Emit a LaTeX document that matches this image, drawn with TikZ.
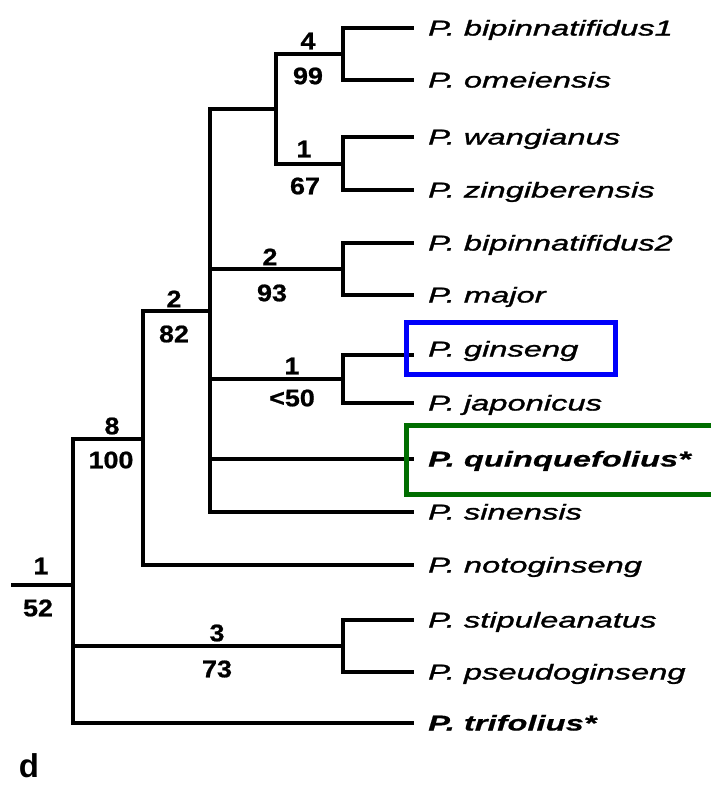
\documentclass[tikz,border=0pt]{standalone}
\usepackage{fontspec}
\setmainfont{Liberation Sans}
% wide sans for taxon names, slightly widened bold for support values
\newfontfamily\taxonfont[FakeStretch=1.52, ItalicFeatures={FakeBold=1.4}, BoldItalicFeatures={FakeBold=0.6}]{Liberation Sans}
\newfontfamily\suppfont[FakeStretch=1.12, BoldFeatures={FakeBold=0.8}]{Liberation Sans}
\definecolor{boxblue}{RGB}{0,0,250}
\definecolor{boxgreen}{RGB}{0,110,0}
\begin{document}
\begin{tikzpicture}[x=1pt,y=-1pt,
  branch/.style={line width=4pt, line cap=rect, line join=miter},
  taxon/.style={anchor=base west, inner sep=0pt, font=\fontsize{21.5}{24}\selectfont\taxonfont\itshape},
  taxonb/.style={taxon, font=\fontsize{21.5}{24}\selectfont\taxonfont\bfseries\itshape},
  supp/.style={inner sep=0pt, font=\fontsize{24}{26}\selectfont\suppfont\bfseries},
  hilite/.style={line width=5pt}]
\useasboundingbox (0,0) rectangle (711,785);

% leaf tips
\coordinate (t1) at (412,28);
\coordinate (t2) at (412,80);
\coordinate (t3) at (412,137);
\coordinate (t4) at (412,190);
\coordinate (t5) at (412,243);
\coordinate (t6) at (412,295);
\coordinate (t7) at (412,355);
\coordinate (t8) at (412,403);
\coordinate (t9) at (412,459);
\coordinate (t10) at (412,512);
\coordinate (t11) at (412,565);
\coordinate (t12) at (412,620);
\coordinate (t13) at (412,672);
\coordinate (t14) at (412,723);

% internal nodes
\coordinate (n4) at (343,53.5);
\coordinate (n1a) at (343,163.5);
\coordinate (nA) at (276,108.5);
\coordinate (n2) at (343,269);
\coordinate (n1b) at (343,379);
\coordinate (nB) at (210,311);
\coordinate (nC) at (143,438.5);
\coordinate (n3) at (343,646);
\coordinate (root) at (73,585);
\coordinate (base) at (13,585);

% taxon names
\node[taxon] (l1) at (428,35.5) {P. bipinnatifidus1};
\node[taxon] (l2) at (428,87.5) {P. omeiensis};
\node[taxon] (l3) at (428,144.5) {P. wangianus};
\node[taxon] (l4) at (428,197.5) {P. zingiberensis};
\node[taxon] (l5) at (428,250.5) {P. bipinnatifidus2};
\node[taxon] (l6) at (428,302.5) {P. major};
\node[taxon] (l7) at (428,356.5) {P. ginseng};
\node[taxon] (l8) at (428,410.5) {P. japonicus};
\node[taxonb] (l9) at (428,466.5) {P. quinquefolius*};
\node[taxon] (l10) at (428,519.5) {P. sinensis};
\node[taxon] (l11) at (428,572.5) {P. notoginseng};
\node[taxon] (l12) at (428,627.5) {P. stipuleanatus};
\node[taxon] (l13) at (428,679.5) {P. pseudoginseng};
\node[taxonb] (l14) at (428,730.5) {P. trifolius*};

% branches
\draw[branch] (t1) -| (n4) |- (t2);
\draw[branch] (t3) -| (n1a) |- (t4);
\draw[branch] (n4) -| (nA) |- (n1a);
\draw[branch] (t5) -| (n2) |- (t6);
\draw[branch] (t7) -| (n1b) |- (t8);
\draw[branch] (nA) -| (nB) |- (t10);
\draw[branch] (nB |- n2) -- (n2);
\draw[branch] (nB |- n1b) -- (n1b);
\draw[branch] (nB |- t9) -- (t9);
\draw[branch] (nB) -| (nC) |- (t11);
\draw[branch] (t12) -| (n3) |- (t13);
\draw[branch] (nC) -| (root) |- (t14);
\draw[branch] (root |- n3) -- (n3);
\draw[branch] (base) -- (root);

% branch support: steps above, bootstrap below
\node[supp] (s4) at (308,41) {4};
\node[supp] (b99) at (308,76) {99};
\node[supp] (s1a) at (304,149) {1};
\node[supp] (b67) at (305,186) {67};
\node[supp] (s2a) at (270,257) {2};
\node[supp] (b93) at (272,293) {93};
\node[supp] (s2b) at (174,299) {2};
\node[supp] (b82) at (174,334) {82};
\node[supp] (s1b) at (292,366) {1};
\node[supp] (b50) at (292,398) {<50};
\node[supp] (s8) at (112,426) {8};
\node[supp] (b100) at (111,460) {100};
\node[supp] (s1c) at (41,566) {1};
\node[supp] (b52) at (38,608) {52};
\node[supp] (s3) at (217,633) {3};
\node[supp] (b73) at (217,669) {73};

% panel letter
\node[inner sep=0pt, font=\fontsize{33}{35}\selectfont\bfseries] (panel) at (29,766) {d};

% highlight frames
\draw[hilite, boxblue] (406.5,322.5) rectangle (615.5,374.5);
\draw[hilite, boxgreen, line join=miter] (711,425.5) -- (406.5,425.5) -- (406.5,494.5) -- (711,494.5);
\end{tikzpicture}
\end{document}
